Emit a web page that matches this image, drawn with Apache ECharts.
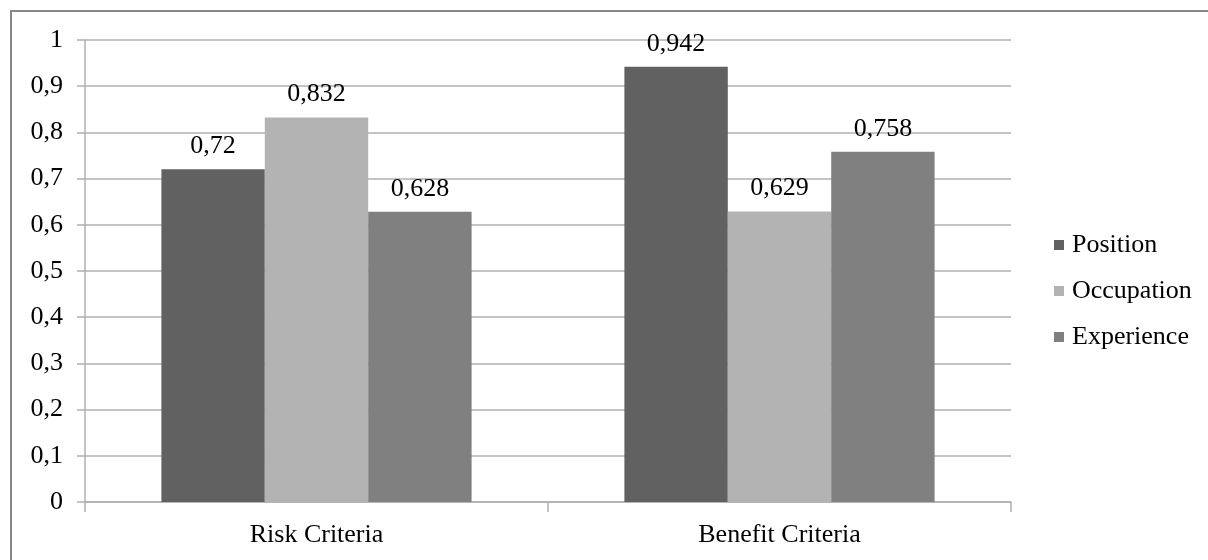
<!DOCTYPE html>
<html>
<head>
<meta charset="utf-8">
<script src="https://cdn.jsdelivr.net/npm/echarts@6/dist/echarts.min.js"></script>
<style>
  html, body { margin: 0; padding: 0; background: #fff; }
  #chart { width: 1208px; height: 560px; }
</style>
</head>
<body>
<div id="chart"></div>
<script>
// Criteria groups along the x axis
const categories = ['Risk Criteria', 'Benefit Criteria'];
// Weights per factor
const position = [0.72, 0.942];
const occupation = [0.832, 0.629];
const experience = [0.628, 0.758];
// Y axis ticks
const yTicks = [0, 0.1, 0.2, 0.3, 0.4, 0.5, 0.6, 0.7, 0.8, 0.9, 1];

const fontFamily = '"Liberation Serif", "Times New Roman", serif';
const fontSize = 26;
const comma = v => String(v).replace('.', ',');

const chart = echarts.init(document.getElementById('chart'));

function bar(name, data, color) {
  return {
    name: name,
    type: 'bar',
    data: data,
    barGap: '0%',
    barCategoryGap: '33%',
    itemStyle: { color: color },
    label: {
      show: true,
      position: 'top',
      distance: 10,
      color: '#000',
      fontFamily: fontFamily,
      fontSize: fontSize,
      formatter: p => comma(p.value)
    }
  };
}

chart.setOption({
  animation: false,
  backgroundColor: '#fff',
  textStyle: { fontFamily: fontFamily },
  graphic: [{
    type: 'rect',
    shape: { x: 11, y: 11, width: 1300, height: 700 },
    style: { fill: 'none', stroke: '#888', lineWidth: 2 },
    silent: true
  }],
  grid: { left: 85, right: 197, top: 40, bottom: 58 },
  legend: {
    orient: 'vertical',
    left: 1054,
    top: 232,
    padding: 0,
    itemWidth: 10,
    itemHeight: 10,
    itemGap: 20,
    icon: 'rect',
    textStyle: { fontFamily: fontFamily, fontSize: fontSize, color: '#000', padding: [0, 0, 0, 3] },
    data: ['Position', 'Occupation', 'Experience']
  },
  xAxis: {
    type: 'category',
    data: categories,
    axisLine: { lineStyle: { color: '#b0b0b0', width: 1.5 } },
    axisTick: { show: true, length: 10, lineStyle: { color: '#b0b0b0', width: 1.5 } },
    axisLabel: { color: '#000', fontFamily: fontFamily, fontSize: fontSize, margin: 20 }
  },
  yAxis: {
    type: 'value',
    min: 0,
    max: 1,
    interval: 0.1,
    axisLine: { show: true, lineStyle: { color: '#b0b0b0', width: 1.5 } },
    axisTick: { show: true, inside: false, length: 8, lineStyle: { color: '#b0b0b0', width: 1.5 } },
    splitLine: { show: true, lineStyle: { color: '#b0b0b0', width: 1.5 } },
    axisLabel: {
      color: '#000',
      fontFamily: fontFamily,
      fontSize: fontSize,
      margin: 22,
      customValues: yTicks,
      formatter: v => comma(Math.round(v * 10) / 10)
    }
  },
  series: [
    bar('Position', position, '#616161'),
    bar('Occupation', occupation, '#b3b3b3'),
    bar('Experience', experience, '#808080')
  ]
});
</script>
</body>
</html>
